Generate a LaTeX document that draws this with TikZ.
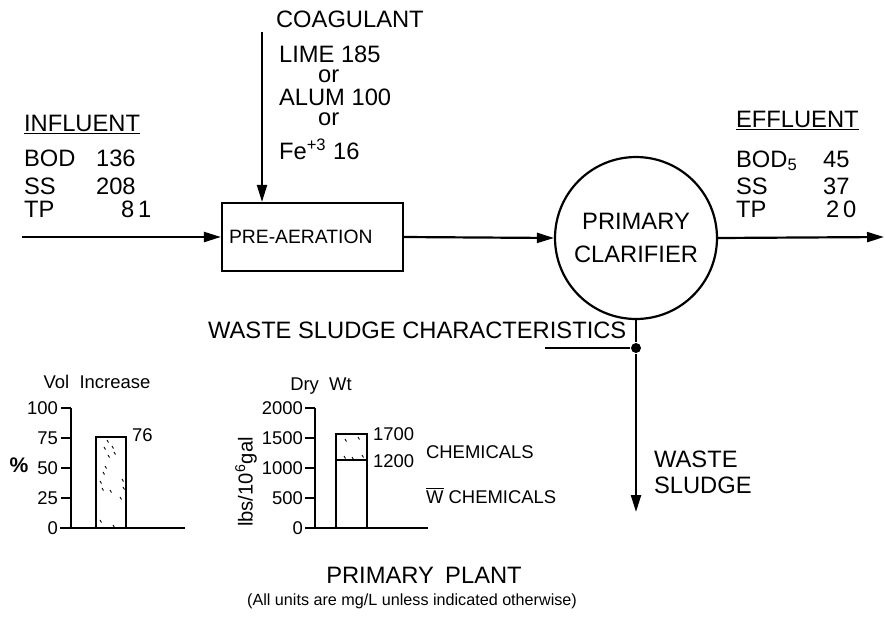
\documentclass[tikz,border=0pt]{standalone}
\usepackage{fontspec}
\setmainfont{Liberation Sans}
\usetikzlibrary{arrows.meta,positioning}

\begin{document}
\begin{tikzpicture}[
    x=0.02cm, y=-0.02cm, line width=1.25pt,
    >={Triangle[length=0.34cm,width=0.2cm]},
    lbl/.style={font=\fontsize{13.5}{16}\selectfont, inner sep=0pt, anchor=base west},
    sml/.style={font=\fontsize{10.5}{12}\selectfont, inner sep=0pt},
    procbox/.style={draw, minimum width=3.62cm, minimum height=1.36cm, inner xsep=0.14cm,
        text width=3.34cm, align=left, font=\fontsize{11}{13}\selectfont},
    tank/.style={circle, draw, minimum size=3.24cm, inner sep=0pt, align=center,
        font=\fontsize{13.5}{19}\selectfont},
    speck/.style={line width=0.5pt}
]
\useasboundingbox (0,0) rectangle (885,616);

% process units
\node[procbox] (pre) at (312.5,237) {PRE-AERATION};
\node[tank] (clar) at (636,238) {PRIMARY\\CLARIFIER};

% flow line
\coordinate (infl) at (22,237);
\coordinate (effl) at (884,237);
\coordinate (coag) at (262,32);
\draw[->] (infl) -- (pre.west);
\draw[->] (pre.east) -- (clar.west);
\draw[->] (clar.east) -- (effl);
\draw[->] (coag) -- (coag |- pre.north);

% sludge draw-off
\node[circle, fill, inner sep=0pt, minimum size=0.2cm] (jn) at (636,348) {};
\coordinate (sludge) at (636,512);
\coordinate (wscend) at (545,348);
\draw (clar.south) -- (jn);
\draw[->] (jn) -- (sludge);
\draw (wscend) -- (jn);

% coagulant doses
\node[lbl] (coagt) at (275,27) {COAGULANT};
\node[lbl, anchor=north west, align=left, font=\fontsize{13.5}{11.4}\selectfont] (dose) at (278,45)
    {LIME 185\\ \hspace{0.78cm}or\\[1.6pt] ALUM 100\\ \hspace{0.78cm}or\\[6.5pt] Fe\textsuperscript{+3} 16};

% influent
\node[lbl] (inft) at (23,131) {\underline{INFLUENT}};
\node[lbl] (infbod) at (23,166) {BOD};
\node[lbl] (infbodv) at (95,166) {136};
\node[lbl] (infss) at (23,194) {SS};
\node[lbl] (infssv) at (95,194) {208};
\node[lbl] (inftp) at (23,217) {TP};
\node[lbl] (inftpv) at (120,217) {8\,1};

% effluent
\node[lbl] (efft) at (735,127) {\underline{EFFLUENT}};
\node[lbl] (effbod) at (735,167) {BOD\textsubscript{5}};
\node[lbl] (effbodv) at (822,167) {45};
\node[lbl] (effss) at (735,194) {SS};
\node[lbl] (effssv) at (822,194) {37};
\node[lbl] (efftp) at (735,217) {TP};
\node[lbl] (efftpv) at (825,217) {2\,0};

\node[lbl] (wsc) at (207,338) {WASTE SLUDGE CHARACTERISTICS};
\node[lbl] (ws1) at (653,467) {WASTE};
\node[lbl] (ws2) at (653,493) {SLUDGE};

% volume chart
\node[sml, anchor=base] (volt) at (97,388) {Vol\ \ Increase};
\draw (71,408) -- (71,528);
\draw (60,528) -- (185,528);
\foreach \v [count=\i from 0] in {0,25,50,75,100} {
    \node[sml, anchor=east] (vt\i) at (59,528-30*\i) {\v};
    \draw (61,528-30*\i) -- (71,528-30*\i);
}
\node[font=\fontsize{12}{14}\selectfont\bfseries, inner sep=0pt] (pct) at (19,465) {\%};
\draw (96,528) rectangle (126,436.8);
\node[sml, anchor=base west] (v76) at (131,441) {76};
\foreach \p in {(107,440),(112,446),(108,455),(114,452),(105,466),(103,472),(100,481),
    (102,488),(110,490),(122,479),(123,487),(120,497),(100,520),(113,525),(104,447)}
    \draw[speck] \p -- ++(1.5,2.5);

% dry weight chart
\node[sml, anchor=base] (dryt) at (321,390) {Dry\ \ Wt};
\node[font=\fontsize{11.5}{13}\selectfont, inner sep=0pt, rotate=90] (ylab) at (246,482) {lbs/10\textsuperscript{6}gal};
\draw (315,408) -- (315,528);
\draw (308,528) -- (428,528);
\foreach \v [count=\i from 0] in {0,500,1000,1500,2000} {
    \node[sml, anchor=east] (dt\i) at (304,528-30*\i) {\v};
    \draw (305,528-30*\i) -- (315,528-30*\i);
}
\draw (336,528) -- (336,434) -- (367,434) -- (367,528);
\draw (336,460) -- (367,460);
\foreach \p in {(345,439),(358,437),(344,456),(352,457),(362,455)}
    \draw[speck] \p -- ++(1.5,2.5);
\node[sml, anchor=base west] (d1700) at (372,440) {1700};
\node[sml, anchor=base west] (d1200) at (372,467) {1200};
\node[sml, anchor=base west] (chem) at (425,458) {CHEMICALS};
\node[sml, anchor=base west] (nochem) at (425,503) {$\overline{\hbox{W}}$ CHEMICALS};

% caption
\node[font=\fontsize{13.5}{16}\selectfont, inner sep=0pt, anchor=base] (title) at (424,583) {PRIMARY\hspace{0.2em} PLANT};
\node[font=\fontsize{9.2}{11}\selectfont, inner sep=0pt, anchor=base] (note) at (412,605) {(All units are mg/L unless indicated otherwise)};
\end{tikzpicture}
\end{document}
